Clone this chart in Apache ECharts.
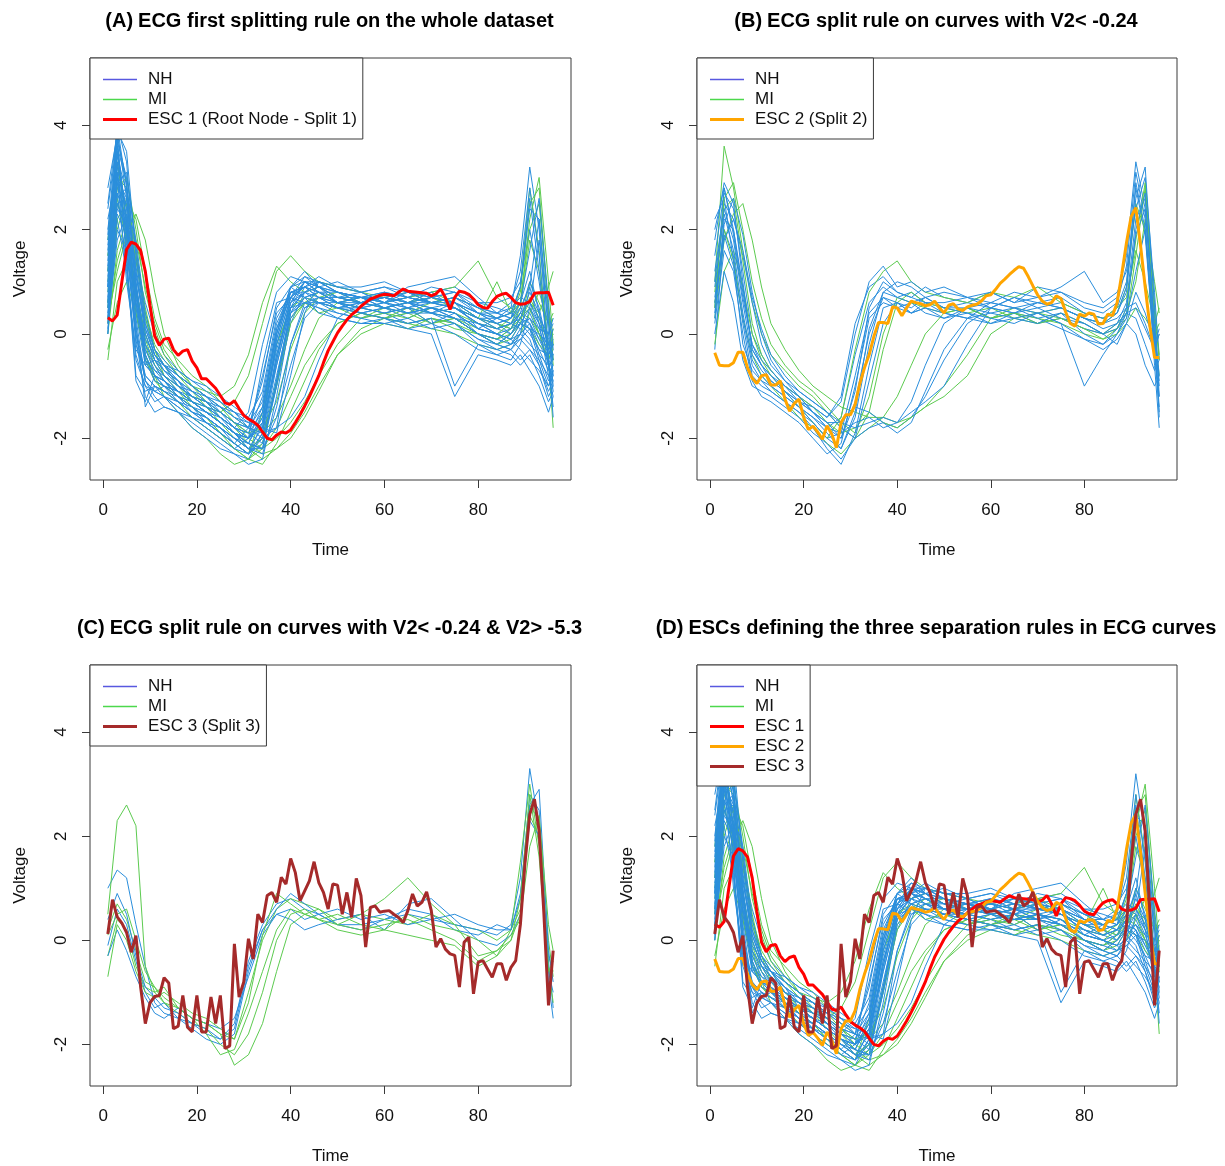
<!DOCTYPE html>
<html>
<head>
<meta charset="utf-8">
<script src="https://cdn.jsdelivr.net/npm/echarts@6/dist/echarts.min.js"></script>
<style>
  html, body { margin: 0; background: #fff; }
  #chart { width: 1225px; height: 1166px; }
</style>
</head>
<body>
<div id="chart"></div>
<script>
// sample times used by the background curves
const bgTimes = [1, 3, 5, 7, 9, 11, 13, 16, 19, 22, 25, 28, 31, 34, 37, 40, 43, 46, 50, 55, 60, 65, 70, 75, 80, 84, 87, 89, 91, 93, 95, 96]
// ESC curves are read at every time point 1..96
const escTimes = Array.from({ length: 96 }, (_, i) => i + 1)

const xTicks = [0, 20, 40, 60, 80]
const yTicks = [-2, 0, 2, 4]

// whole dataset (panels A and D)
const nhAll = [
  [0.5, 3.2, 2.4, 0.6, -0.3, -0.6, -0.8, -1.0, -1.2, -1.4, -1.6, -1.8, -1.9, -1.2, 0.2, 0.8, 0.9, 0.7, 0.6, 0.5, 0.6, 0.5, 0.4, 0.5, 0.2, 0.1, 0.0, 0.3, 0.2, -0.2, -0.5, -0.3],
  [1.2, 3.8, 2.9, 1.2, 0.0, -0.5, -0.7, -0.9, -1.3, -1.5, -1.7, -1.9, -2.1, -1.6, -0.3, 0.6, 0.8, 0.9, 0.7, 0.6, 0.7, 0.6, 0.5, 0.6, 0.3, 0.2, 0.3, 0.5, 0.4, 0.0, -0.6, -0.8],
  [2.0, 3.5, 1.8, -0.2, -0.8, -1.0, -1.1, -1.3, -1.5, -1.6, -1.8, -2.0, -2.2, -2.0, -0.8, 0.4, 0.9, 1.0, 0.8, 0.7, 0.5, 0.6, 0.7, 0.6, 0.4, 0.2, 0.1, 0.2, 0.0, -0.3, -0.4, -0.2],
  [0.3, 2.6, 2.8, 1.6, 0.3, -0.3, -0.6, -0.8, -1.0, -1.2, -1.5, -1.7, -1.8, -0.9, 0.5, 0.9, 0.7, 0.8, 0.6, 0.4, 0.5, 0.3, 0.5, 0.4, 0.1, 0.0, -0.2, 0.1, -0.1, -0.6, -1.2, -1.0],
  [1.5, 4.0, 3.3, 1.0, -0.4, -0.9, -1.0, -1.2, -1.4, -1.7, -1.9, -2.1, -2.3, -2.1, -1.0, 0.2, 0.8, 1.0, 0.9, 0.8, 0.6, 0.8, 0.6, 0.7, 0.5, 0.4, 0.6, 1.2, 2.8, 1.5, -0.6, -1.4],
  [0.0, 2.2, 1.2, -0.5, -1.0, -1.3, -1.2, -1.4, -1.6, -1.8, -2.0, -2.2, -2.0, -0.6, 0.6, 0.7, 0.5, 0.6, 0.4, 0.3, 0.4, 0.2, 0.3, 0.2, -0.1, -0.2, -0.3, -0.1, -0.3, -0.5, -0.8, -0.6],
  [0.8, 3.0, 2.0, 0.4, -0.6, -0.8, -0.9, -1.1, -1.2, -1.3, -1.4, -1.6, -1.7, -1.8, -0.5, 0.7, 1.1, 0.9, 1.0, 0.8, 0.9, 0.7, 0.8, 0.9, 0.6, 0.5, 0.4, 0.6, 0.5, 0.2, -0.1, 0.0],
  [1.8, 3.6, 2.2, 0.2, -1.4, -1.0, -1.2, -1.5, -1.7, -1.9, -2.1, -2.3, -2.4, -1.9, -0.4, 0.5, 0.6, 0.5, 0.3, 0.2, 0.3, 0.1, 0.2, 0.0, -0.3, -0.4, -0.5, -0.2, 0.5, 1.8, 0.2, -0.5],
  [0.6, 2.8, 2.5, 1.4, 0.6, 0.0, -0.4, -0.7, -0.9, -1.1, -1.3, -1.5, -1.8, -2.0, -1.8, -0.2, 0.6, 0.7, 0.5, 0.6, 0.5, 0.6, 0.4, 0.3, 0.0, -0.1, 0.1, 0.4, 0.6, 0.2, -0.3, -0.1],
  [2.5, 3.9, 2.6, 0.5, -0.5, -0.7, -0.9, -1.1, -1.3, -1.4, -1.5, -1.7, -1.9, -1.5, 0.0, 0.9, 1.0, 0.8, 0.7, 0.6, 0.8, 0.7, 0.6, 0.7, 0.5, 0.3, 0.5, 1.5, 3.2, 2.0, -0.4, -1.6],
  [0.2, 1.8, 2.3, 1.0, -0.2, -0.6, -0.9, -1.2, -1.4, -1.5, -1.7, -1.9, -2.0, -1.7, -0.6, 0.5, 0.8, 0.6, 0.5, 0.4, 0.3, 0.4, 0.5, 0.3, 0.2, 0.0, -0.1, -0.3, -0.5, -0.7, -1.0, -0.8],
  [1.0, 3.3, 1.5, -0.8, -1.1, -1.0, -1.1, -1.2, -1.3, -1.5, -1.6, -1.8, -1.5, -0.2, 0.8, 1.1, 1.0, 0.9, 0.8, 0.7, 0.6, 0.7, 0.9, 0.8, 0.6, 0.6, 0.7, 1.0, 2.0, 1.0, -0.2, -0.4],
  [0.4, 2.5, 2.0, 0.8, -0.2, -0.5, -0.7, -0.9, -1.1, -1.3, -1.6, -1.9, -2.2, -2.3, -1.4, -0.2, 0.5, 0.7, 0.6, 0.4, 0.3, 0.2, 0.3, -1.0, -0.2, -0.3, -0.4, -0.6, -0.4, -0.8, -1.3, -1.1],
  [1.4, 3.7, 3.0, 1.8, 0.4, -0.3, -0.5, -0.8, -1.0, -1.2, -1.3, -1.5, -1.6, -1.1, 0.3, 0.8, 0.9, 1.1, 0.9, 0.9, 1.0, 0.8, 0.7, 0.8, 0.4, 0.3, 0.2, 0.1, 0.3, 0.1, 0.0, 0.2],
  [0.9, 2.9, 1.7, 0.0, -0.9, -1.2, -1.4, -1.5, -1.6, -1.7, -1.8, -2.0, -2.1, -2.2, -1.6, -0.6, 0.3, 0.6, 0.5, 0.5, 0.4, 0.5, 0.2, 0.4, 0.0, -0.2, 0.0, 0.3, 0.8, 0.4, -0.2, -0.4],
  [1.6, 3.4, 2.7, 0.9, -0.1, -0.4, -0.6, -1.0, -1.1, -1.2, -1.4, -1.5, -1.7, -1.3, 0.1, 0.9, 1.2, 0.9, 0.7, 0.8, 0.6, 0.9, 1.0, 1.1, 0.7, 0.4, 0.3, 0.6, 1.2, 0.4, -0.6, -0.9],
  [0.1, 2.0, 1.6, -0.1, -1.2, -1.5, -1.4, -1.5, -1.8, -2.0, -2.2, -2.3, -2.5, -2.4, -1.2, 0.3, 0.7, 0.4, 0.3, 0.2, 0.2, 0.1, 0.0, -1.2, -0.4, -0.5, -0.6, -0.4, -0.7, -1.0, -1.5, -1.2],
  [2.2, 3.1, 1.0, -0.3, -0.6, -0.5, -0.6, -0.7, -0.9, -1.0, -1.2, -1.4, -1.6, -1.8, -1.9, -0.8, 0.4, 1.0, 0.8, 0.7, 0.6, 0.7, 0.6, 0.5, 0.3, 0.3, 0.4, 0.9, 2.4, 2.2, 0.3, -0.8],
  [0.7, 2.4, 2.1, 1.1, 0.2, -0.3, -0.6, -0.9, -1.1, -1.3, -1.5, -1.7, -1.8, -1.9, -1.8, -1.6, -1.2, -0.5, 0.3, 0.6, 0.5, 0.4, 0.5, 0.4, 0.1, 0.0, -0.1, 0.0, 0.2, -0.1, -0.3, -0.2],
  [1.3, 3.5, 2.1, 0.3, -0.9, -1.1, -1.0, -1.3, -1.5, -1.7, -1.9, -2.1, -2.3, -1.7, -0.1, 0.8, 0.7, 0.8, 0.6, 0.7, 0.5, 0.6, 0.8, 0.5, 0.2, 0.1, 0.2, 0.4, 0.2, -0.4, -0.9, -0.7],
  [0.9, 3.9, 3.5, 1.5, 0.1, -0.4, -0.6, -0.9, -1.2, -1.3, -1.5, -1.8, -2.0, -1.4, 0.1, 0.7, 1.0, 0.8, 0.6, 0.7, 0.8, 0.6, 0.7, 0.6, 0.3, 0.2, 0.3, 0.6, 1.6, 2.6, 0.6, -0.3],
  [0.2, 2.3, 1.9, 0.6, -0.4, -0.8, -1.0, -1.1, -1.3, -1.5, -1.7, -1.9, -2.1, -2.2, -1.0, 0.4, 0.6, 0.5, 0.4, 0.3, 0.2, 0.3, 0.1, 0.2, -0.2, -0.4, -0.3, -0.5, -0.3, -0.6, -1.1, -0.9],
  [2.8, 3.8, 1.4, -0.9, -1.3, -0.8, -0.9, -1.1, -1.3, -1.5, -1.7, -1.9, -2.0, -1.6, -0.2, 0.7, 0.9, 0.7, 0.7, 0.6, 0.7, 0.5, 0.6, 0.7, 0.4, 0.3, 0.4, 0.2, 0.1, 0.0, -0.2, 0.1],
  [0.5, 3.0, 2.6, 1.3, 0.1, -0.4, -0.7, -1.0, -1.2, -1.4, -1.6, -1.8, -1.9, -2.1, -0.9, 0.5, 1.0, 0.9, 0.8, 0.6, 0.7, 0.6, 0.4, 0.6, 0.1, 0.3, 0.2, 0.5, 0.9, 0.2, -0.8, -1.2],
  [1.1, 2.7, 1.3, -0.4, -1.0, -1.1, -1.2, -1.3, -1.4, -1.6, -1.8, -2.1, -1.8, -0.8, 0.4, 0.7, 0.6, 0.6, 0.5, 0.4, 0.5, 0.4, 0.4, 0.3, 0.0, -0.1, -0.2, 0.0, -0.2, -0.4, -0.6, -0.5],
  [0.6, 3.6, 2.9, 0.8, -0.5, -0.9, -1.0, -1.2, -1.4, -1.6, -1.8, -2.0, -2.2, -1.8, -0.2, 0.7, 0.9, 0.8, 0.8, 0.7, 0.8, 0.7, 0.6, 0.5, 0.3, 0.1, 0.2, 0.3, 0.1, -0.3, -0.7, -0.4],
  [1.7, 3.3, 2.4, 0.6, -0.4, -0.8, -0.9, -1.2, -1.5, -1.7, -1.9, -2.1, -2.3, -1.9, -0.5, 0.6, 1.0, 0.9, 0.7, 0.7, 0.6, 0.5, 0.7, 0.6, 0.4, 0.2, 0.0, 0.2, 0.3, -0.1, -0.5, -0.6],
  [0.9, 2.7, 2.2, 0.7, -0.3, -0.7, -0.8, -1.0, -1.2, -1.4, -1.6, -1.8, -2.0, -1.7, -0.1, 0.8, 0.9, 0.8, 0.6, 0.6, 0.5, 0.6, 0.5, 0.4, 0.1, 0.0, -0.1, 0.2, 0.5, 0.1, -0.4, -0.2],
  [2.4, 3.7, 2.0, 0.0, -0.9, -1.1, -1.2, -1.4, -1.6, -1.8, -2.0, -2.2, -2.3, -2.0, -0.6, 0.5, 0.8, 0.9, 0.6, 0.5, 0.6, 0.4, 0.5, 0.3, 0.0, -0.2, -0.3, 0.0, 0.9, 2.2, 0.0, -1.0],
  [0.3, 2.9, 3.1, 1.7, 0.2, -0.4, -0.6, -0.8, -1.0, -1.2, -1.4, -1.6, -1.8, -1.4, 0.0, 0.9, 1.1, 1.0, 0.9, 0.8, 0.9, 0.8, 0.7, 0.8, 0.5, 0.4, 0.5, 0.7, 0.6, 0.3, 0.0, 0.3],
  [1.2, 3.1, 1.9, 0.1, -0.8, -1.0, -1.1, -1.3, -1.5, -1.6, -1.8, -2.0, -2.2, -2.2, -0.9, 0.4, 0.7, 0.6, 0.6, 0.5, 0.4, 0.5, 0.4, 0.2, -0.1, -0.3, -0.2, -0.1, 0.1, -0.5, -1.0, -0.7],
  [0.0, 2.5, 2.6, 1.2, 0.0, -0.5, -0.8, -1.1, -1.3, -1.5, -1.7, -1.9, -2.1, -1.5, 0.0, 0.8, 0.8, 0.7, 0.5, 0.6, 0.7, 0.6, 0.6, 0.5, 0.2, 0.0, 0.1, 0.4, 1.0, 0.5, -0.3, -0.5],
  [1.9, 4.0, 2.8, 0.9, -0.6, -0.8, -1.0, -1.1, -1.3, -1.5, -1.7, -1.9, -2.0, -1.8, -0.4, 0.6, 1.0, 1.0, 0.8, 0.7, 0.7, 0.8, 0.6, 0.6, 0.4, 0.4, 0.3, 0.9, 2.6, 1.2, -0.5, -1.1]
]
const miAll = [
  [0.5, 2.0, 2.6, 2.2, 1.2, 0.3, -0.2, -0.5, -0.8, -1.0, -1.3, -1.6, -1.8, -1.9, -1.6, -1.0, -0.3, 0.3, 0.6, 0.5, 0.4, 0.5, 0.4, 0.3, 0.1, 0.0, 0.2, 0.6, 2.0, 2.5, 0.5, -0.5],
  [-0.5, 1.0, 1.4, 0.8, -0.2, -0.8, -1.2, -1.5, -1.8, -2.0, -2.3, -2.5, -2.4, -2.2, -1.8, -1.2, -0.6, -0.2, 0.2, 0.4, 0.3, 0.2, 0.3, 0.1, 0.0, -0.1, 0.0, 0.2, 0.1, -0.2, -0.4, -0.3],
  [1.2, 3.0, 2.8, 1.5, 0.4, -0.2, -0.5, -0.8, -1.0, -1.1, -1.2, -1.0, -0.4, 0.6, 1.3, 1.0, 0.8, 0.9, 0.7, 0.6, 0.7, 0.8, 0.6, 0.7, 0.5, 0.3, 0.4, 0.9, 2.8, 1.6, -0.5, -1.8],
  [0.0, 1.6, 2.2, 1.8, 0.9, 0.2, -0.3, -0.7, -1.0, -1.2, -1.4, -1.7, -2.0, -2.2, -2.0, -1.7, -1.3, -0.8, -0.2, 0.3, 0.5, 0.4, 0.6, 0.5, 0.3, 0.1, 0.2, 0.4, 0.3, 0.0, -0.3, 0.1],
  [0.8, 2.5, 2.0, 0.9, -0.1, -0.6, -0.9, -1.2, -1.4, -1.6, -1.9, -2.1, -2.3, -1.5, -0.2, 0.5, 0.7, 0.6, 0.5, 0.4, 0.3, 0.5, 0.2, 0.3, 0.0, -0.2, -0.1, 0.2, 1.0, 0.6, 0.2, 0.4],
  [0.3, 1.2, 1.9, 2.3, 1.8, 0.8, 0.0, -0.6, -1.0, -1.3, -1.6, -1.8, -2.1, -2.3, -2.2, -2.0, -1.6, -1.1, -0.4, 0.1, 0.3, 0.2, 0.1, 0.0, -0.2, -0.3, -0.2, 0.0, 0.4, 0.8, 0.2, 0.3],
  [1.8, 3.3, 2.2, 0.5, -0.5, -0.9, -1.1, -1.3, -1.6, -1.8, -2.0, -2.2, -2.4, -2.1, -0.9, 0.3, 0.6, 0.4, 0.5, 0.3, 0.4, 0.3, 0.5, 0.4, 0.2, 0.1, 0.3, 0.8, 2.5, 2.8, 0.4, -0.6],
  [-0.3, 0.6, 1.0, 0.4, -0.4, -0.9, -1.0, -1.2, -1.3, -1.4, -1.5, -1.3, -0.8, 0.2, 1.2, 1.5, 1.2, 1.0, 0.9, 0.8, 0.7, 0.6, 0.8, 0.9, 1.4, 0.7, 0.5, 0.3, 0.6, 0.4, 0.9, 1.2],
  [0.6, 2.2, 2.5, 1.4, 0.3, -0.3, -0.6, -1.0, -1.3, -1.5, -1.7, -1.9, -2.2, -2.4, -2.2, -1.9, -1.5, -1.0, -0.4, 0.0, 0.2, 0.1, 0.3, 0.2, 0.0, -0.2, 0.0, 0.3, 0.5, 0.0, -0.5, -0.2],
  [1.0, 2.8, 3.0, 2.0, 0.8, 0.1, -0.4, -0.8, -1.1, -1.4, -1.7, -2.0, -2.2, -2.0, -1.0, 0.2, 0.6, 0.8, 0.6, 0.7, 0.6, 0.7, 0.8, 0.6, 0.3, 0.2, 0.1, 0.5, 1.8, 1.2, -0.2, -0.5],
  [0.2, 1.4, 2.0, 1.6, 0.5, -0.3, -0.8, -1.1, -1.4, -1.6, -1.9, -2.2, -2.4, -2.5, -2.1, -1.5, -0.9, -0.3, 0.2, 0.4, 0.3, 0.4, 0.2, 0.3, 0.0, -0.1, 0.1, 0.3, 0.7, 0.3, -0.2, 0.0],
  [1.5, 2.6, 1.8, 0.8, 0.0, -0.5, -0.8, -1.0, -1.2, -1.3, -1.5, -1.7, -1.9, -1.8, -1.3, -0.3, 0.4, 0.7, 0.8, 0.6, 0.5, 0.6, 0.7, 0.5, 0.3, 1.0, 0.4, 0.6, 2.2, 3.0, 1.0, -0.2]
]

// curves with V2 < -0.24 (panel B)
const nhB = [
  [0.5, 2.8, 2.0, 0.8, -0.2, -0.6, -0.8, -1.0, -1.3, -1.5, -1.8, -1.6, -0.4, 0.6, 0.9, 0.7, 0.8, 0.6, 0.5, 0.6, 0.5, 0.7, 0.5, 0.6, 0.4, 0.3, 0.5, 1.0, 2.8, 1.9, -0.4, -1.2],
  [1.5, 2.7, 2.4, 1.2, 0.0, -0.4, -0.7, -1.0, -1.2, -1.4, -1.6, -1.2, 0.2, 0.9, 1.1, 0.8, 0.7, 0.9, 0.7, 0.6, 0.8, 0.6, 0.9, 0.8, 0.6, 0.5, 0.7, 1.5, 3.3, 2.4, 0.2, -0.8],
  [-0.3, 2.0, 1.5, 0.2, -0.8, -1.0, -1.1, -1.3, -1.5, -1.7, -2.0, -1.9, -0.8, 0.4, 0.7, 0.5, 0.6, 0.4, 0.3, 0.5, 0.3, 0.4, 0.2, 0.3, 0.1, 0.0, 0.2, 0.6, 2.2, 2.6, 0.3, -1.6],
  [1.0, 2.5, 2.2, 1.5, 0.6, -0.2, -0.6, -0.9, -1.1, -1.3, -1.5, -1.8, -2.0, -1.8, -1.7, -1.8, -1.6, -1.2, -0.5, 0.2, 0.5, 0.4, 0.5, 0.3, 0.2, 0.0, 0.1, 0.4, 0.3, -0.2, -0.7, -0.5],
  [0.2, 1.6, 1.2, 0.0, -0.9, -1.2, -1.3, -1.5, -1.7, -2.0, -2.3, -2.1, -1.0, 0.3, 0.6, 0.5, 0.4, 0.6, 0.4, 0.3, 0.2, 0.4, 0.3, 0.1, -0.1, -0.2, 0.0, 0.3, 1.2, 2.0, -0.2, -1.4],
  [2.2, 2.6, 1.4, -0.2, -0.7, -0.9, -1.0, -1.2, -1.4, -1.6, -1.9, -2.2, -1.6, -0.2, 0.8, 1.0, 0.9, 0.7, 0.8, 0.7, 0.6, 0.8, 0.7, 0.9, 1.2, 0.6, 0.8, 1.2, 2.4, 3.0, 0.8, -0.5],
  [0.6, 1.8, 2.2, 1.6, 0.7, 0.1, -0.4, -0.8, -1.1, -1.3, -1.5, -1.7, -1.8, -1.7, -1.6, -1.7, -1.5, -1.3, -1.0, -0.2, 0.5, 0.7, 0.6, 0.5, 0.3, 0.2, 0.3, 0.5, 0.6, 0.2, -0.3, 0.0],
  [0.0, 1.2, 0.6, -0.5, -1.0, -1.1, -1.2, -1.4, -1.6, -1.9, -2.1, -2.4, -2.0, -0.9, 0.2, 0.6, 0.5, 0.7, 0.5, 0.4, 0.3, 0.2, 0.4, 0.2, -0.1, -0.3, -0.1, 0.2, 0.0, -0.6, -1.0, -0.8],
  [1.8, 2.9, 2.5, 1.0, -0.3, -0.6, -0.8, -1.1, -1.3, -1.4, -1.6, -1.3, 0.0, 1.0, 1.3, 0.9, 1.0, 0.8, 0.9, 0.7, 0.8, 0.6, 0.7, 0.8, 0.5, 0.4, 0.6, 1.3, 3.1, 2.2, -0.6, -1.8],
  [0.9, 2.3, 1.6, 0.4, -0.5, -0.8, -1.0, -1.2, -1.4, -1.6, -1.8, -1.9, -1.7, -1.6, -1.8, -1.7, -1.3, -0.6, 0.2, 0.5, 0.4, 0.5, 0.3, 0.4, 0.2, 0.0, -0.2, 0.2, 0.8, 0.4, -0.2, 0.1],
  [0.4, 2.1, 2.6, 1.9, 0.8, 0.0, -0.5, -0.9, -1.2, -1.5, -1.7, -2.0, -1.3, 0.0, 0.7, 0.6, 0.4, 0.5, 0.3, 0.4, 0.2, 0.3, 0.4, 0.2, -1.0, -0.4, 0.0, 0.4, 2.0, 2.7, 0.0, -1.0],
  [1.2, 2.4, 1.8, 0.6, -0.4, -0.7, -0.9, -1.1, -1.4, -1.7, -2.0, -2.2, -1.5, 0.1, 0.8, 0.7, 0.6, 0.7, 0.5, 0.5, 0.6, 0.5, 0.4, 0.5, 0.3, 0.2, 0.4, 0.8, 2.6, 3.2, 0.5, -1.2],
  [0.3, 2.2, 2.0, 0.9, -0.3, -0.6, -0.9, -1.1, -1.3, -1.5, -1.7, -1.7, -1.4, -1.5, -1.7, -1.9, -1.7, -1.1, -0.3, 0.3, 0.6, 0.5, 0.6, 0.5, 0.3, 0.1, 0.2, 0.4, 0.5, 0.1, -0.3, 0.0],
  [2.0, 2.8, 1.9, 0.7, -0.2, -0.5, -0.7, -1.0, -1.2, -1.5, -1.8, -2.0, -1.1, 0.5, 1.0, 0.8, 0.7, 0.6, 0.6, 0.7, 0.5, 0.4, 0.6, 0.7, 0.4, 0.3, 0.4, 0.9, 2.9, 2.0, -0.3, -1.5],
  [0.7, 1.9, 1.3, 0.3, -0.6, -0.9, -1.1, -1.3, -1.5, -1.8, -2.2, -2.5, -1.9, -0.6, 0.5, 0.6, 0.4, 0.5, 0.4, 0.3, 0.4, 0.3, 0.2, 0.4, 0.0, -0.2, 0.1, 0.5, 1.9, 2.4, -0.1, -0.9]
]
const miB = [
  [1.0, 3.6, 2.8, 1.6, 0.6, 0.0, -0.4, -0.7, -1.0, -1.2, -1.5, -1.8, -2.0, -1.5, -0.3, 0.6, 0.8, 0.6, 0.5, 0.4, 0.5, 0.3, 0.4, 0.5, 0.3, 0.2, 0.4, 0.9, 2.5, 2.0, 0.0, -0.8],
  [0.3, 1.8, 2.3, 2.5, 1.8, 0.9, 0.2, -0.3, -0.7, -1.0, -1.2, -1.4, -1.5, -1.6, -1.6, -1.7, -1.6, -1.4, -1.0, -0.4, 0.3, 0.5, 0.4, 0.3, 0.1, 0.0, 0.2, 0.4, 1.0, 2.2, 1.0, 0.4],
  [0.6, 2.0, 1.4, 0.3, -0.4, -0.8, -1.0, -1.3, -1.6, -1.8, -2.1, -2.3, -2.0, -1.8, -1.6, -1.2, -0.6, 0.0, 0.4, 0.5, 0.3, 0.4, 0.2, 0.4, 0.2, 0.0, 0.1, 0.3, 1.5, 2.8, 0.6, -0.4],
  [-0.2, 1.2, 1.6, 0.9, 0.0, -0.5, -0.8, -1.1, -1.4, -1.7, -2.0, -1.6, -0.3, 0.8, 1.2, 1.4, 1.0, 0.8, 0.7, 0.6, 0.8, 0.7, 0.9, 0.6, 0.4, 0.3, 0.5, 0.7, 1.6, 1.0, 0.2, 0.5],
  [0.8, 2.4, 2.6, 1.4, 0.2, -0.4, -0.7, -1.0, -1.2, -1.4, -1.7, -1.9, -1.8, -1.5, -1.7, -1.8, -1.6, -1.4, -1.2, -0.8, 0.0, 0.3, 0.2, 0.3, 0.1, -0.1, 0.0, 0.2, 0.5, 0.3, 0.0, 0.2],
  [0.5, 2.6, 2.9, 2.0, 1.0, 0.3, -0.2, -0.6, -0.9, -1.1, -1.4, -1.7, -1.9, -1.2, 0.0, 0.7, 0.6, 0.5, 0.4, 0.5, 0.3, 0.4, 0.3, 0.2, 0.0, -0.1, 0.1, 0.5, 1.8, 2.9, 0.4, -0.5]
]

// curves with V2 < -0.24 & V2 > -5.3 (panel C)
const nhC = [
  [1.0, 1.35, 1.2, 0.3, -0.5, -1.2, -1.4, -1.5, -1.6, -1.8, -1.9, -1.6, -0.4, 0.3, 0.7, 0.8, 0.6, 0.5, 0.3, 0.2, 0.4, 0.6, 0.5, 0.2, 0.1, 0.3, 0.2, 0.8, 2.8, 2.5, -0.8, -1.5],
  [-0.1, 0.6, 0.3, -0.4, -1.0, -1.3, -1.2, -1.5, -1.7, -1.9, -2.0, -1.8, -0.6, 0.2, 0.5, 0.6, 0.4, 0.5, 0.3, 0.3, 0.4, 0.5, 0.4, 0.3, 0.2, 0.1, 0.3, 1.2, 3.3, 2.2, -0.4, -1.3],
  [-0.3, 0.2, -0.2, -0.7, -1.1, -1.4, -1.5, -1.3, -1.5, -1.6, -1.7, -1.5, -0.7, 0.1, 0.5, 0.4, 0.2, 0.3, 0.4, 0.5, 0.2, 0.7, 0.8, 0.4, 0.0, -0.1, 0.1, 0.5, 2.3, 2.0, -0.6, -1.0],
  [0.4, 0.9, 0.5, -0.3, -0.9, -1.1, -1.3, -1.4, -1.6, -1.7, -1.9, -1.7, -0.5, 0.2, 0.6, 0.9, 0.7, 0.5, 0.6, 0.4, 0.5, 0.3, 0.4, 0.5, 0.3, 0.2, 0.2, 0.9, 2.6, 2.9, -0.2, -0.8]
]
const miC = [
  [0.5, 2.3, 2.6, 2.2, -0.5, -1.0, -1.2, -1.3, -1.5, -1.6, -1.8, -1.9, -1.0, 0.0, 0.6, 0.8, 0.7, 0.6, 0.4, 0.5, 0.8, 1.2, 0.7, 0.3, 0.2, 0.0, 0.2, 0.6, 2.4, 2.0, -0.3, -0.6],
  [-0.3, 0.4, 0.2, -0.5, -0.9, -1.0, -0.9, -1.3, -1.5, -1.8, -2.2, -2.1, -1.4, -0.6, 0.2, 0.6, 0.5, 0.4, 0.2, 0.1, 0.2, 0.1, 0.0, -0.1, -0.5, -0.3, 0.2, 1.5, 3.0, 1.8, -0.5, -1.2],
  [0.2, 0.7, 0.4, -0.2, -0.8, -0.9, -1.2, -1.4, -1.6, -1.7, -2.0, -2.2, -1.8, -1.0, 0.0, 0.5, 0.6, 0.4, 0.3, 0.5, 0.4, 0.3, 0.5, 0.3, -0.3, -0.2, 0.0, 0.5, 2.6, 2.3, 0.0, -0.7],
  [-0.7, 0.3, 0.0, -0.6, -1.0, -1.1, -1.0, -1.2, -1.4, -1.5, -1.7, -1.9, -1.2, 0.1, 0.9, 0.7, 0.5, 0.6, 0.3, 0.2, 0.3, 0.4, 0.2, 0.0, -0.4, -0.2, 0.1, 0.4, 1.8, 2.4, 0.3, -0.2],
  [0.1, 0.5, 0.6, 0.0, -0.6, -0.9, -1.1, -1.3, -1.5, -1.6, -1.8, -2.4, -2.2, -1.6, -0.6, 0.3, 0.5, 0.4, 0.5, 0.3, 0.2, 0.5, 0.3, 0.2, 0.0, -0.3, 0.0, 0.8, 2.8, 1.6, -0.6, -0.4]
]

// ECG split curves (ESC), t = 1..96
const esc1 = [0.31, 0.25, 0.36, 1.0, 1.62, 1.76, 1.72, 1.6, 1.2, 0.55, -0.04, -0.22, -0.1, -0.08, -0.3, -0.41, -0.33, -0.3, -0.52, -0.65,
  -0.86, -0.86, -0.95, -1.04, -1.18, -1.32, -1.35, -1.28, -1.43, -1.56, -1.63, -1.68, -1.75, -1.88, -2.0, -2.03, -1.94, -1.88, -1.9, -1.84,
  -1.7, -1.55, -1.38, -1.2, -1.0, -0.8, -0.55, -0.32, -0.15, 0.02, 0.15, 0.27, 0.37, 0.44, 0.53, 0.6, 0.67, 0.7, 0.74, 0.76,
  0.75, 0.73, 0.8, 0.86, 0.82, 0.81, 0.8, 0.79, 0.78, 0.73, 0.77, 0.86, 0.7, 0.47, 0.7, 0.82, 0.8, 0.76, 0.67, 0.56,
  0.51, 0.49, 0.62, 0.72, 0.76, 0.78, 0.7, 0.6, 0.57, 0.58, 0.62, 0.78, 0.79, 0.79, 0.8, 0.55]
const esc2 = [-0.36, -0.6, -0.61, -0.61, -0.55, -0.35, -0.35, -0.65, -0.85, -0.95, -0.8, -0.78, -0.98, -0.98, -0.9, -1.25, -1.48, -1.33, -1.25, -1.6,
  -1.83, -1.77, -1.88, -2.02, -1.76, -1.92, -2.18, -1.7, -1.55, -1.55, -1.35, -0.95, -0.65, -0.4, -0.05, 0.22, 0.22, 0.2, 0.52, 0.5,
  0.35, 0.5, 0.63, 0.6, 0.58, 0.54, 0.56, 0.63, 0.5, 0.4, 0.55, 0.58, 0.48, 0.45, 0.52, 0.55, 0.57, 0.63, 0.73, 0.75,
  0.85, 0.97, 1.05, 1.14, 1.22, 1.29, 1.26, 1.1, 0.92, 0.75, 0.63, 0.57, 0.6, 0.73, 0.68, 0.42, 0.2, 0.15, 0.38, 0.34,
  0.4, 0.38, 0.19, 0.2, 0.38, 0.35, 0.6, 1.15, 1.75, 2.25, 2.42, 1.7, 0.9, 0.15, -0.45, -0.45]
const esc3 = [0.12, 0.78, 0.45, 0.33, 0.15, -0.23, 0.09, -0.9, -1.6, -1.2, -1.08, -1.06, -0.72, -0.82, -1.7, -1.65, -1.06, -1.67, -1.76, -1.06,
  -1.76, -1.76, -1.09, -1.6, -1.06, -2.08, -2.03, -0.07, -1.09, -0.8, 0.03, -0.36, 0.5, 0.34, 0.86, 0.92, 0.73, 1.21, 1.08, 1.57,
  1.3, 0.76, 0.95, 1.14, 1.51, 1.11, 0.92, 0.6, 1.08, 1.06, 0.5, 0.92, 0.44, 1.19, 0.86, -0.13, 0.63, 0.66, 0.54, 0.56,
  0.57, 0.5, 0.44, 0.34, 0.57, 0.89, 0.66, 0.73, 0.93, 0.57, -0.13, 0.03, -0.17, -0.26, -0.29, -0.9, -0.04, 0.06, -1.03, -0.42,
  -0.39, -0.55, -0.71, -0.45, -0.45, -0.77, -0.52, -0.39, 0.3, 1.5, 2.42, 2.71, 2.1, 0.54, -1.25, -0.2]

const titles = [
  ['(A)', 'ECG first splitting rule on the whole dataset'],
  ['(B)', 'ECG split rule on curves with V2< -0.24'],
  ['(C)', 'ECG split rule on curves with V2< -0.24 & V2> -5.3'],
  ['(D)', 'ESCs defining the three separation rules in ECG curves']
]

const FONT = '"Liberation Sans", Arial, Helvetica, sans-serif'
const NH_COLOR = '#2a8edc'
const MI_COLOR = '#5ccb50'
const NH_KEY = '#5858e0'
const MI_KEY = '#4cd84c'
const ESC_COLORS = ['#ff0000', '#ffa500', '#a52a2a']

const boxes = [
  { left: 90, top: 58, width: 481, height: 422 },
  { left: 697, top: 58, width: 480, height: 422 },
  { left: 90, top: 665, width: 481, height: 421 },
  { left: 697, top: 665, width: 480, height: 421 }
]

const panels = [
  { nh: nhAll, mi: miAll, esc: [{ name: 'ESC 1 (Root Node - Split 1)', data: esc1, color: ESC_COLORS[0] }] },
  { nh: nhB, mi: miB, esc: [{ name: 'ESC 2 (Split 2)', data: esc2, color: ESC_COLORS[1] }] },
  { nh: nhC, mi: miC, esc: [{ name: 'ESC 3 (Split 3)', data: esc3, color: ESC_COLORS[2] }] },
  {
    nh: nhAll, mi: miAll, esc: [
      { name: 'ESC 1', data: esc1, color: ESC_COLORS[0] },
      { name: 'ESC 2', data: esc2, color: ESC_COLORS[1] },
      { name: 'ESC 3', data: esc3, color: ESC_COLORS[2] }
    ]
  }
]

const pairs = (ts, vs) => vs.map((v, i) => [ts[i], v])

function lineSeries(name, data, color, width, gi) {
  return {
    type: 'line', name, data, xAxisIndex: gi, yAxisIndex: gi,
    symbol: 'none', silent: true, animation: false,
    lineStyle: { color, width }, itemStyle: { color }
  }
}

const series = []
const grid = [], xAxis = [], yAxis = [], title = [], legend = []
const labelStyle = { fontSize: 17, fontFamily: FONT, color: '#111' }

panels.forEach((p, gi) => {
  const b = boxes[gi]
  grid.push({ ...b, show: true, borderColor: '#3a3a3a', borderWidth: 1, backgroundColor: 'transparent' })

  xAxis.push({
    gridIndex: gi, type: 'value', min: -2.8, max: 99.8,
    axisLine: { show: false, onZero: false }, splitLine: { show: false },
    axisTick: { show: true, customValues: xTicks, length: 8, lineStyle: { color: '#3a3a3a' } },
    axisLabel: { customValues: xTicks, margin: 22, ...labelStyle },
    name: 'Time', nameLocation: 'middle', nameGap: 62, nameTextStyle: labelStyle
  })
  yAxis.push({
    gridIndex: gi, type: 'value', min: -2.8, max: 5.29,
    axisLine: { show: false, onZero: false }, splitLine: { show: false },
    axisTick: { show: true, customValues: yTicks, length: 8, lineStyle: { color: '#3a3a3a' } },
    axisLabel: { customValues: yTicks, rotate: 90, margin: 20, ...labelStyle },
    name: 'Voltage', nameLocation: 'middle', nameGap: 61, nameTextStyle: labelStyle
  })

  const [tag, txt] = titles[gi]
  title.push({
    text: '{a|' + tag + '} {b|' + txt + '}',
    left: b.left + b.width / 2 - 6, top: gi < 2 ? 6 : 613, textAlign: 'center',
    textStyle: {
      rich: {
        a: { fontSize: 20, fontFamily: FONT, color: '#000' },
        b: { fontSize: 20, fontFamily: FONT, fontWeight: 'bold', color: '#000' }
      }
    }
  })

  // background curves, blue and green interleaved
  const n = Math.max(p.nh.length, p.mi.length)
  for (let i = 0; i < n; i++) {
    if (p.nh[i]) series.push(lineSeries('NH', pairs(bgTimes, p.nh[i]), NH_COLOR, 1, gi))
    if (p.mi[i]) series.push(lineSeries('MI', pairs(bgTimes, p.mi[i]), MI_COLOR, 1, gi))
  }
  p.esc.forEach(e => series.push(lineSeries(e.name, pairs(escTimes, e.data), e.color, 3, gi)))

  // legend key: a flat bar drawn as a path, thickness = line width
  const key = (name, color, h) => ({ name, icon: 'path://M0,0H34V' + h + 'H0Z', itemStyle: { color, opacity: 1 } })
  legend.push({
    orient: 'vertical', left: b.left, top: b.top,
    padding: [13, 6, 11, 13], itemGap: 3, itemWidth: 34, itemHeight: 14,
    symbolKeepAspect: true,
    backgroundColor: '#fff', borderColor: '#3a3a3a', borderWidth: 1, borderRadius: 0,
    selectedMode: false,
    textStyle: { fontSize: 17, fontFamily: FONT, color: '#111', padding: [0, 0, 0, 6] },
    data: [key('NH', NH_KEY, 1.5), key('MI', MI_KEY, 1.5), ...p.esc.map(e => key(e.name, e.color, 3))]
  })
})

const chart = echarts.init(document.getElementById('chart'), null, { renderer: 'canvas' })
chart.setOption({
  backgroundColor: '#fff',
  animation: false,
  title, grid, xAxis, yAxis, legend, series
})
</script>
</body>
</html>
